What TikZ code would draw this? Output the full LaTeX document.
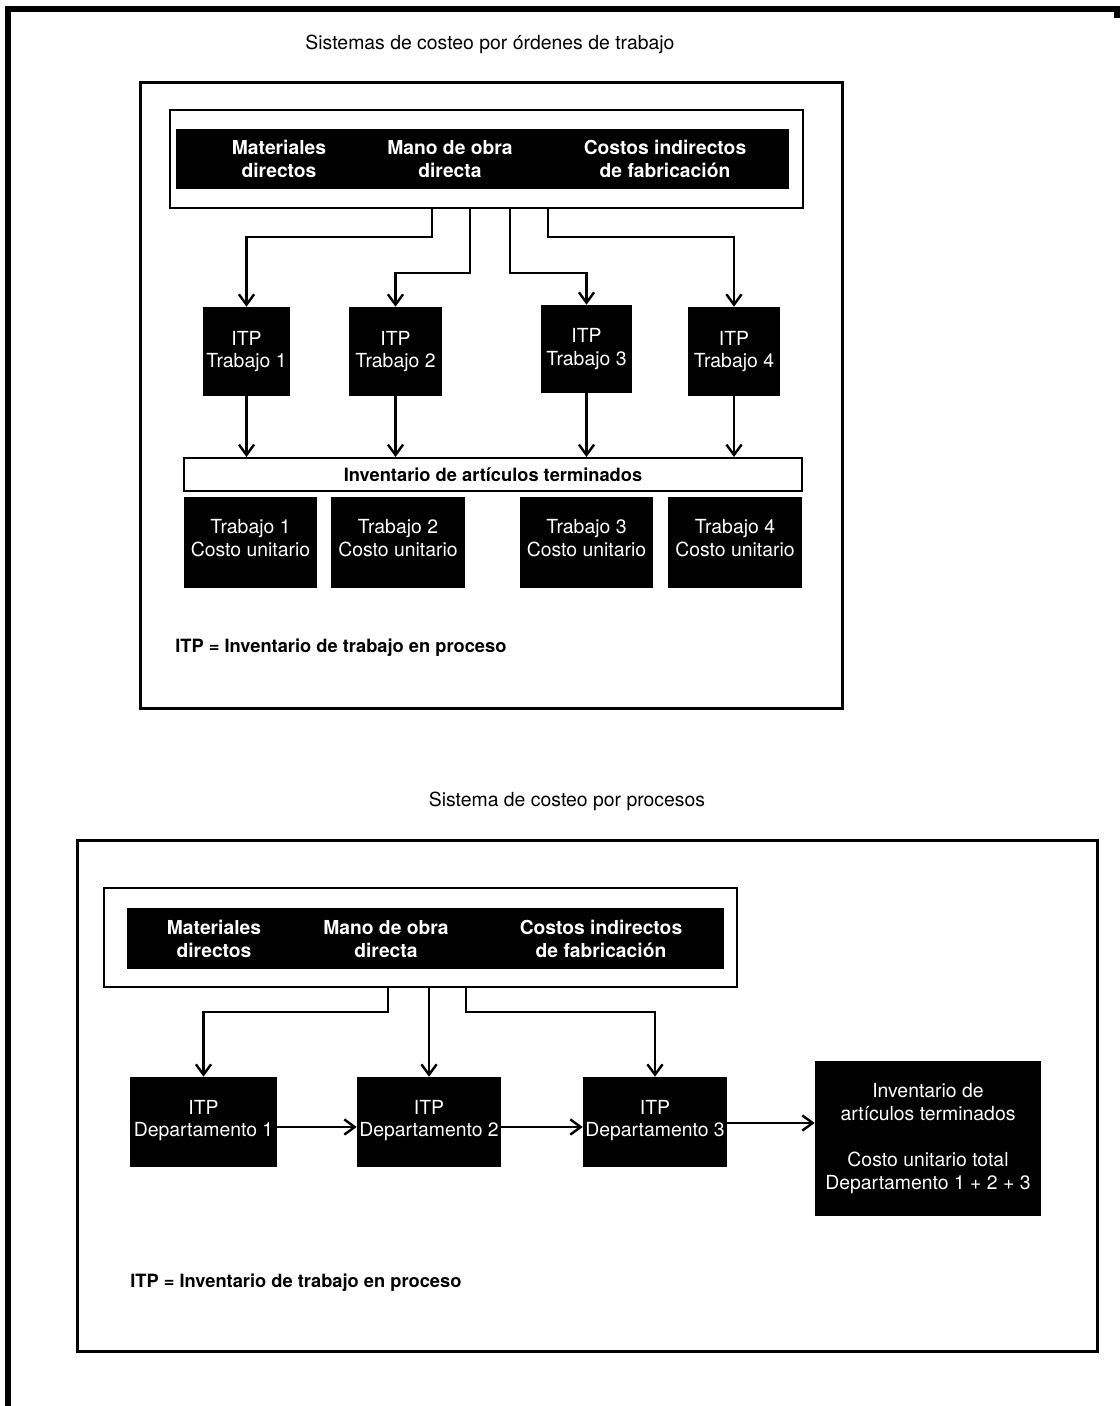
\documentclass[tikz,border=0pt]{standalone}
\usepackage{fontspec}
\setmainfont{TeX Gyre Heros}
\usetikzlibrary{arrows.meta}
\begin{document}
\begin{tikzpicture}[x=0.25mm,y=-0.25mm,
  txt/.style={inner sep=0, align=center, font=\fontsize{13.8}{16.4}\selectfont},
  boldtxt/.style={inner sep=0, align=center, font=\bfseries\fontsize{13}{16}\selectfont},
  blk/.style={fill=black, text=white, draw=none, inner sep=0, align=center,
              font=\fontsize{13.8}{16.2}\selectfont},
  hdr/.style={text=white, inner sep=0, align=center,
              font=\bfseries\fontsize{13.7}{16.4}\selectfont},
  pageframe/.style={line width=1.5mm, line join=miter},
  secbox/.style={draw, line width=0.75mm, inner sep=0},
  wbox/.style={draw, fill=white, line width=0.5mm, inner sep=0},
  arr/.style={line width=0.6mm, -{Straight Barb[length=2.6mm,width=3.8mm]}},
]
\useasboundingbox (0,0) rectangle (1120,1406);

% page frame (top and left edges)
\draw[pageframe] (1117,18) -- (1117,9) -- (8,9) -- (8,1406);

% ---------------- job order costing ----------------
\node[txt] (title1) at (490,44) {Sistemas de costeo por órdenes de trabajo};
\draw[secbox] (140,82) rectangle (842,708);

\node[wbox, minimum width=158.25mm, minimum height=24.5mm] (hdrbox1) at (486.5,159) {};
\node[fill=black, inner sep=0, minimum width=153.25mm, minimum height=15mm] (hdrblk1) at (482.5,159) {};
\node[hdr] (matA) at (279,159) {Materiales\\directos};
\node[hdr] (manA) at (450,159) {Mano de obra\\directa};
\node[hdr] (cifA) at (665,159) {Costos indirectos\\de fabricación};

\node[blk, minimum width=21.75mm, minimum height=22.25mm] (itp1) at (246.5,351.5) {ITP\\Trabajo 1};
\node[blk, minimum width=23.25mm, minimum height=22.25mm] (itp2) at (395.5,351.5) {ITP\\Trabajo 2};
\node[blk, minimum width=22.75mm, minimum height=22mm] (itp3) at (586.5,349) {ITP\\Trabajo 3};
\node[blk, minimum width=23mm, minimum height=22.25mm] (itp4) at (734,351.5) {ITP\\Trabajo 4};

\coordinate (tapA1) at (432,0);
\coordinate (tapA2) at (470,0);
\coordinate (tapA3) at (510,0);
\coordinate (tapA4) at (548,0);
\draw[arr] (hdrbox1.south -| tapA1) -- ++(0,28) -| (itp1.north);
\draw[arr] (hdrbox1.south -| tapA2) -- ++(0,64) -| (itp2.north);
\draw[arr] (hdrbox1.south -| tapA3) -- ++(0,64) -| (itp3.north);
\draw[arr] (hdrbox1.south -| tapA4) -- ++(0,28) -| (itp4.north);

\node[wbox, minimum width=154.5mm, minimum height=8.25mm, boldtxt] (bar) at (493,474.5)
  {Inventario de artículos terminados};

\draw[arr] (itp1.south) -- (itp1.south |- bar.north);
\draw[arr] (itp2.south) -- (itp2.south |- bar.north);
\draw[arr] (itp3.south) -- (itp3.south |- bar.north);
\draw[arr] (itp4.south) -- (itp4.south |- bar.north);

\node[blk, minimum width=33.25mm, minimum height=22.75mm] (cu1) at (250.5,542.5) {Trabajo 1\\Costo unitario\\[-9.8pt]};
\node[blk, minimum width=33.5mm, minimum height=22.75mm] (cu2) at (398,542.5) {Trabajo 2\\Costo unitario\\[-9.8pt]};
\node[blk, minimum width=33.25mm, minimum height=22.75mm] (cu3) at (586.5,542.5) {Trabajo 3\\Costo unitario\\[-9.8pt]};
\node[blk, minimum width=33.5mm, minimum height=22.75mm] (cu4) at (735,542.5) {Trabajo 4\\Costo unitario\\[-9.8pt]};

\node[boldtxt, anchor=west] (legA) at (175,648) {ITP = Inventario de trabajo en proceso};

% ---------------- process costing ----------------
\node[txt] (title2) at (567,801) {Sistema de costeo por procesos};
\draw[secbox] (77,840) rectangle (1097,1351);

\node[wbox, minimum width=158.25mm, minimum height=24.75mm] (hdrbox2) at (420.5,937.5) {};
\node[fill=black, inner sep=0, minimum width=149.25mm, minimum height=15.25mm] (hdrblk2) at (425.5,938.5) {};
\node[hdr] (matB) at (214,939) {Materiales\\directos};
\node[hdr] (manB) at (386,939) {Mano de obra\\directa};
\node[hdr] (cifB) at (601,939) {Costos indirectos\\de fabricación};

\node[blk, minimum width=36.75mm, minimum height=22.5mm] (dep1) at (203.5,1122) {ITP\\Departamento 1\\[-11.2pt]};
\node[blk, minimum width=36mm, minimum height=22.5mm] (dep2) at (429,1122) {ITP\\Departamento 2\\[-11.2pt]};
\node[blk, minimum width=36mm, minimum height=22.5mm] (dep3) at (655,1122) {ITP\\Departamento 3\\[-11.2pt]};
\node[blk, minimum width=56.5mm, minimum height=38.75mm] (fin) at (928,1138.5)
  {Inventario de\\artículos terminados\\[16.4pt]Costo unitario total\\Departamento 1 + 2 + 3};

\coordinate (tapB1) at (388,0);
\coordinate (tapB3) at (466,0);
\draw[arr] (hdrbox2.south -| tapB1) -- ++(0,24) -| (dep1.north);
\draw[arr] (hdrbox2.south -| dep2.north) -- (dep2.north);
\draw[arr] (hdrbox2.south -| tapB3) -- ++(0,24) -| (dep3.north);

\draw[arr] ([yshift=-1.25mm]dep1.east) -- ([yshift=-1.25mm]dep2.west);
\draw[arr] ([yshift=-1.25mm]dep2.east) -- ([yshift=-1.25mm]dep3.west);
\draw[arr] ([yshift=-0.25mm]dep3.east) -- ([yshift=-0.25mm]dep3.east -| fin.west);

\node[boldtxt, anchor=west] (legB) at (130,1283) {ITP = Inventario de trabajo en proceso};
\end{tikzpicture}
\end{document}
